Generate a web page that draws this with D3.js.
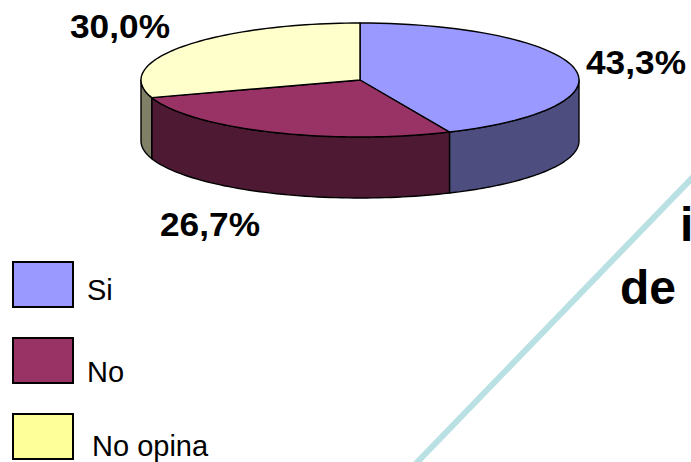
<!DOCTYPE html>
<html><head><meta charset="utf-8">
<script src="https://cdn.jsdelivr.net/npm/d3@7"></script>
<style>html,body{margin:0;background:#fff}svg{display:block}text{font-family:"Liberation Sans",Arial,sans-serif}</style>
</head><body><svg id="c" width="691" height="462"></svg>
<script>
const categories = ["Si", "No", "No opina"];
const values = [43.3, 26.7, 30.0];
const valueLabels = ["43,3%", "26,7%", "30,0%"];
const topColors = ["#9999ff", "#993366", "#ffffcc"];
const sideColors = ["#4d4d80", "#4d1933", "#808066"];
const legendColors = ["#9999ff", "#993366", "#ffff99"];
const labelPos = [[586,74],[160,236],[70,38]];
const legendBox = [[13,263],[13,339],[13,415]];
const legendText = [[87,300],[87,382],[92,456]];
const backdropWords = [{t:"i",x:680,y:241},{t:"de",x:620,y:304}];

const svg = d3.select("#c");
const cx=360, cy=80, rx=219, ry=57, depth=61;
const px = d3.scaleLinear().domain([-1,1]).range([cx-rx,cx+rx]);
const py = d3.scaleLinear().domain([-1,1]).range([cy-ry,cy+ry]);
const pt = (a,dz=0)=>[px(Math.sin(a)), py(-Math.cos(a))+dz];
const arcs = d3.pie().sort(null).value(d=>d)(values);
const samples=(a0,a1)=>d3.range(0,61).map(i=>a0+(a1-a0)*i/60);
const line=d3.line();

// decorative diagonal and clipped text behind the chart
svg.append("line").attr("x1",414.5).attr("y1",465).attr("x2",694).attr("y2",176)
  .attr("stroke","#b9e0e3").attr("stroke-width",6);
svg.selectAll("text.bg").data(backdropWords).join("text").attr("class","bg")
  .attr("x",d=>d.x).attr("y",d=>d.y).attr("font-size",48).attr("font-weight","bold").attr("fill","#000").text(d=>d.t);

// walls (visible part: PI/2..3PI/2)
arcs.forEach((d,i)=>{
  const a0=Math.max(d.startAngle,Math.PI/2), a1=Math.min(d.endAngle,3*Math.PI/2);
  if(a1<=a0) return;
  const top=samples(a0,a1).map(a=>pt(a));
  const bot=samples(a0,a1).map(a=>pt(a,depth)).reverse();
  svg.append("path").attr("d",line([...top,...bot])+"Z")
    .attr("fill",sideColors[i]).attr("stroke","#000").attr("stroke-width",1.4).attr("stroke-linejoin","round");
});
// top slices
arcs.forEach((d,i)=>{
  svg.append("path").attr("d",line([[cx,cy],...samples(d.startAngle,d.endAngle).map(a=>pt(a))])+"Z")
    .attr("fill",topColors[i]).attr("stroke","#000").attr("stroke-width",1.4).attr("stroke-linejoin","round");
});
// value labels
svg.selectAll("text.v").data(valueLabels).join("text").attr("class","v")
  .attr("x",(d,i)=>labelPos[i][0]).attr("y",(d,i)=>labelPos[i][1])
  .attr("font-size",33).attr("font-weight","bold").attr("fill","#000")
  .attr("textLength",100).attr("lengthAdjust","spacingAndGlyphs").text(d=>d);
// legend
svg.selectAll("rect.l").data(categories).join("rect").attr("class","l")
  .attr("x",(d,i)=>legendBox[i][0]).attr("y",(d,i)=>legendBox[i][1]-1)
  .attr("width",60).attr("height",45).attr("fill",(d,i)=>legendColors[i])
  .attr("stroke","#000").attr("stroke-width",2);
svg.selectAll("text.t").data(categories).join("text").attr("class","t")
  .attr("x",(d,i)=>legendText[i][0]).attr("y",(d,i)=>legendText[i][1])
  .attr("font-size",29).attr("fill","#000").text(d=>d);
</script></body></html>
